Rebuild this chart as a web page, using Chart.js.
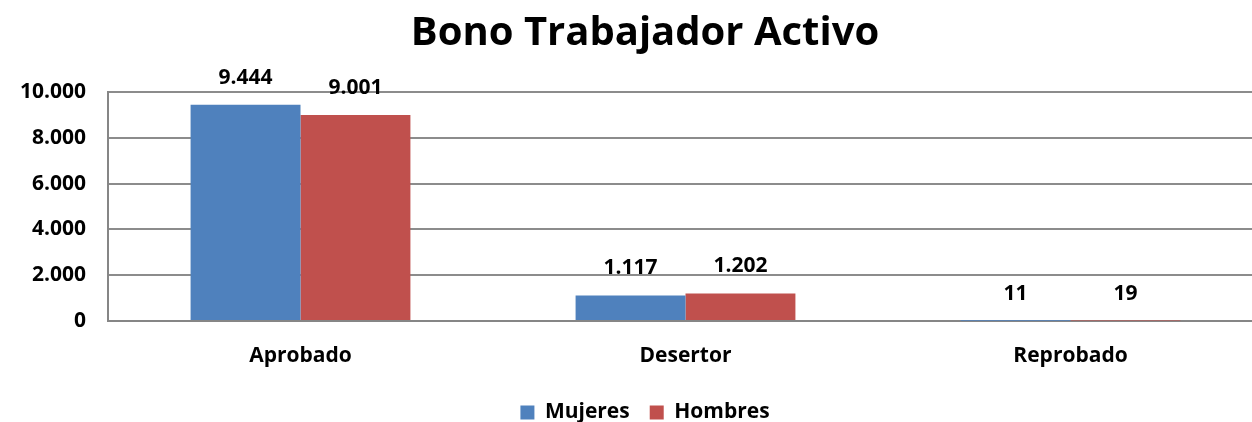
<!DOCTYPE html>
<html>
<head>
<meta charset="utf-8">
<script src="https://cdn.jsdelivr.net/npm/chart.js@4/dist/chart.umd.min.js"></script>
<style>
  html, body { margin: 0; padding: 0; background: #fff; overflow: hidden; }
  #wrap { width: 1290px; height: 422px; }
</style>
</head>
<body>
<div id="wrap"><canvas id="c" width="1290" height="422"></canvas></div>
<script>
const categories = ['Aprobado', 'Desertor', 'Reprobado'];
const mujeres = [9444, 1117, 11];
const hombres = [9001, 1202, 19];
const seriesNames = ['Mujeres', 'Hombres'];
const titleText = 'Bono Trabajador Activo';
const yTicks = [0, 2000, 4000, 6000, 8000, 10000];

const FONT = '"Open Sans", Lato, sans-serif';

function fmt(v) {
  return String(Math.round(v)).replace(/\B(?=(\d{3})+(?!\d))/g, '.');
}

const dataLabels = {
  id: 'dataLabels',
  afterDatasetsDraw(chart) {
    const ctx = chart.ctx;
    ctx.save();
    ctx.font = 'bold 21px ' + FONT;
    ctx.fillStyle = '#000';
    ctx.textAlign = 'center';
    ctx.textBaseline = 'middle';
    chart.data.datasets.forEach((ds, i) => {
      const meta = chart.getDatasetMeta(i);
      meta.data.forEach((bar, j) => {
        ctx.fillText(fmt(ds.data[j]), bar.x, bar.y - 27);
      });
    });
    ctx.restore();
  }
};

new Chart(document.getElementById('c'), {
  type: 'bar',
  data: {
    labels: categories,
    datasets: [
      { label: seriesNames[0], data: mujeres, backgroundColor: '#4F81BD', borderWidth: 0 },
      { label: seriesNames[1], data: hombres, backgroundColor: '#C0504D', borderWidth: 0 }
    ]
  },
  options: {
    responsive: false,
    animation: false,
    devicePixelRatio: 1,
    layout: { padding: { top: 0, left: 0, right: 0, bottom: -11 } },
    datasets: { bar: { categoryPercentage: 0.571, barPercentage: 1.0 } },
    plugins: {
      title: {
        display: true,
        text: titleText,
        color: '#000',
        font: { family: FONT, size: 40, weight: 'bold', lineHeight: 1.2 },
        padding: { top: 10, bottom: 34 }
      },
      legend: {
        position: 'bottom',
        labels: {
          color: '#000',
          font: { family: FONT, size: 21, weight: 'bold' },
          boxWidth: 14, boxHeight: 14,
          padding: 20
        }
      },
      tooltip: { enabled: false }
    },
    scales: {
      x: {
        grid: { display: false, drawTicks: false },
        border: { display: true, color: '#868686', width: 2 },
        ticks: { color: '#000', font: { family: FONT, size: 21, weight: 'bold' }, padding: 22 },
        afterFit(s) { s.height = 61; }
      },
      y: {
        min: 0, max: 10000,
        afterBuildTicks(s) { s.ticks = yTicks.map(v => ({ value: v })); },
        grid: { color: '#8c8c8c', lineWidth: 2, drawTicks: false },
        border: { display: true, color: '#868686', width: 2 },
        ticks: {
          color: '#000', font: { family: FONT, size: 21, weight: 'bold' }, padding: 22,
          callback: v => fmt(v)
        },
        afterFit(s) { s.width = 108; }
      },
      yr: {
        position: 'right',
        display: true,
        grid: { display: false, drawTicks: false },
        border: { display: false },
        ticks: { display: false },
        afterFit(s) { s.width = 27; }
      }
    }
  },
  plugins: [dataLabels]
});
</script>
</body>
</html>
